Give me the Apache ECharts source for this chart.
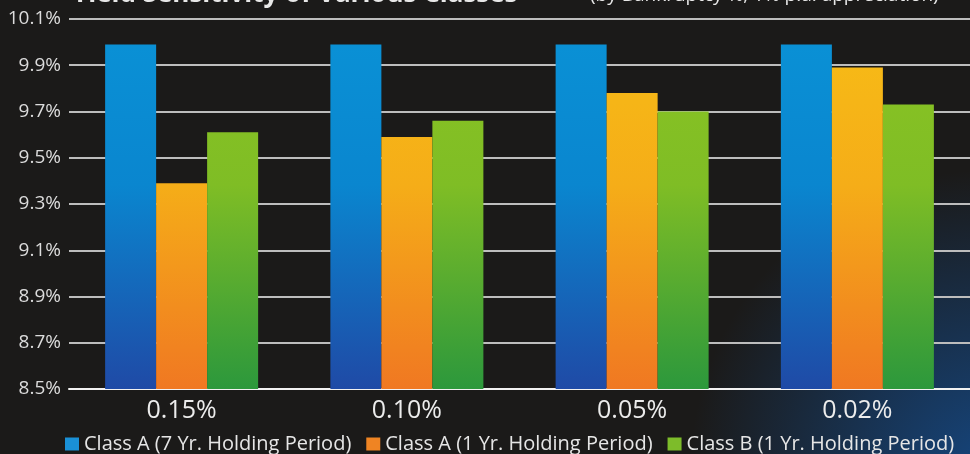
<!DOCTYPE html>
<html>
<head>
<meta charset="utf-8">
<script src="https://cdn.jsdelivr.net/npm/echarts@6/dist/echarts.min.js"></script>
<style>
html,body{margin:0;padding:0;background:#1b1a19;}
#chart{width:970px;height:454px;}
</style>
</head>
<body>
<div id="chart"></div>
<script>
// Data
const categories = ['0.15%', '0.10%', '0.05%', '0.02%'];
const seriesNames = ['Class A (7 Yr. Holding Period)', 'Class A (1 Yr. Holding Period)', 'Class B (1 Yr. Holding Period)'];
const classA7 = [9.99, 9.99, 9.99, 9.99];
const classA1 = [9.39, 9.59, 9.78, 9.89];
const classB1 = [9.61, 9.66, 9.70, 9.73];
const yMin = 8.5, yMax = 10.1, yStep = 0.1;

const chart = echarts.init(document.getElementById('chart'), null, {renderer: 'canvas'});

function grad(top, mid, bottom) {
  return new echarts.graphic.LinearGradient(0, 19, 0, 389, [
    {offset: 0, color: top},
    {offset: 0.45, color: mid},
    {offset: 1, color: bottom}
  ], true);
}
const legendColors = ['#1a90d6', '#ef8423', '#7dbc2a'];
const barColors = [
  grad('#0a92d6', '#0a86cf', '#1f4aa6'),
  grad('#f7bd16', '#f5ad18', '#f07822'),
  grad('#8cc423', '#7fbd25', '#2c983c')
];
const dataSets = [classA7, classA1, classB1];

chart.setOption({
  backgroundColor: '#1b1a19',
  animation: false,
  graphic: [
    {
      type: 'rect', z: -10, silent: true,
      shape: {x: 0, y: 0, width: 970, height: 454},
      style: {
        fill: new echarts.graphic.RadialGradient(990, 470, 300, [
          {offset: 0, color: 'rgba(20,80,150,0.8)'},
          {offset: 1, color: 'rgba(20,80,150,0)'}
        ], true)
      }
    },
    {
      type: 'text', left: 72, top: -18, silent: true,
      style: {text: 'Yield Sensitivity of Various Classes', fill: '#e8e8e8', font: 'bold 26px "Open Sans"'}
    },
    {
      type: 'text', left: 590, top: -14, silent: true,
      style: {text: '(by Bankruptcy %, 1% p.a. appreciation)', fill: '#e8e8e8', font: '19px "Open Sans"'}
    }
  ],
  grid: {left: 69, right: -1, top: 19, bottom: 65, containLabel: false},
  legend: {
    top: 429, left: 60, width: 940,
    itemWidth: 14, itemHeight: 13, itemGap: 15, icon: 'rect',
    textStyle: {color: '#e6e6e6', fontSize: 20, fontFamily: 'Open Sans'},
    data: seriesNames.map((n, i) => ({name: n, itemStyle: {color: legendColors[i]}}))
  },
  xAxis: {
    type: 'category',
    data: categories,
    axisLine: {show: true, lineStyle: {color: '#f2f2f2', width: 2}},
    axisTick: {show: false},
    axisLabel: {color: '#ececec', fontSize: 25, fontFamily: 'Open Sans', margin: 9},
    splitLine: {show: false}
  },
  yAxis: {
    type: 'value',
    min: yMin, max: yMax, interval: yStep,
    axisLine: {show: false},
    axisTick: {show: false},
    axisLabel: {
      color: '#dcdcdc', fontSize: 19, fontFamily: 'Open Sans', margin: 8,
      formatter: v => (Math.round(v * 10) % 2 === 1 ? v.toFixed(1) + '%' : '')
    },
    splitLine: {show: true, lineStyle: {color: ['#bdbdbd', 'rgba(0,0,0,0)'], width: 2}}
  },
  series: seriesNames.map((n, i) => ({
    name: n,
    type: 'bar',
    data: dataSets[i],
    barWidth: 51,
    barGap: '0%',
    itemStyle: {color: barColors[i]}
  }))
});
</script>
</body>
</html>
